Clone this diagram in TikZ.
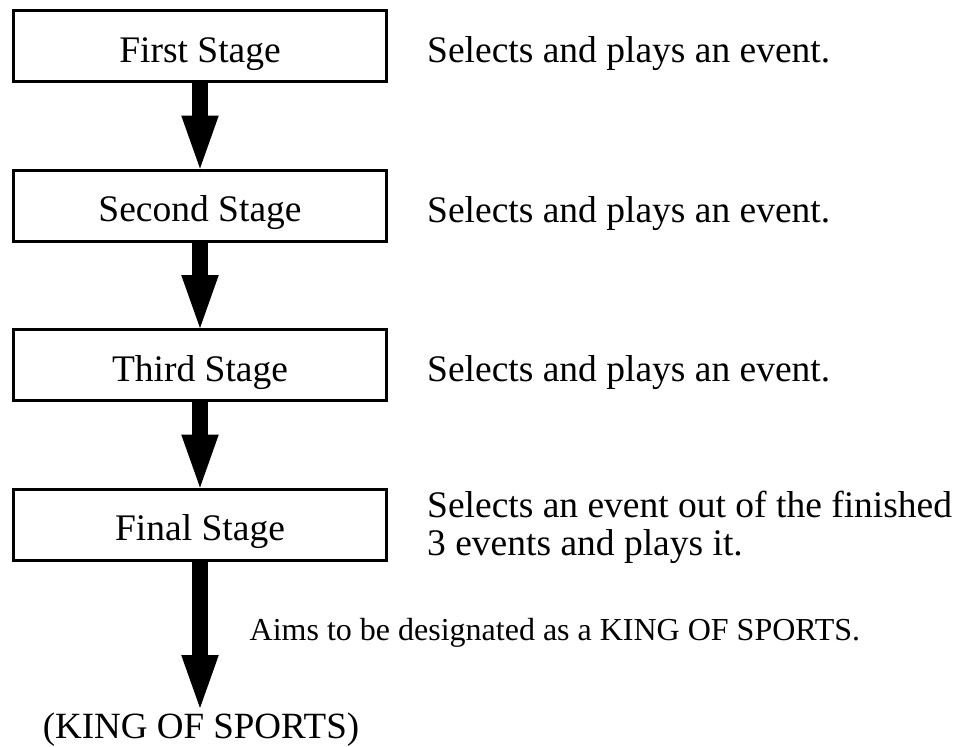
\documentclass[tikz,border=0pt]{standalone}
\usepackage{fontspec}
\setmainfont{Liberation Serif}
\usetikzlibrary{arrows.meta}
\begin{document}
\begin{tikzpicture}[x=1pt,y=-1pt,
  stage/.style={draw,line width=3pt,minimum width=373.4pt,minimum height=71.2pt,
    inner sep=0pt,text height=33pt,text depth=0.6pt,font=\fontsize{37.5}{45}\selectfont},
  desc/.style={anchor=base west,inner sep=0pt,font=\fontsize{37.5}{45}\selectfont},
  flow/.style={line width=16.6pt,-{Triangle[length=53pt,width=37.6pt,line width=0pt]}}
]
\useasboundingbox (0,0) rectangle (956,747);

\node[stage] (s1) at (200,46.1) {First Stage};
\node[stage] (s2) at (200,205.6) {Second Stage};
\node[stage] (s3) at (200,365.1) {Third Stage};
\node[stage] (s4) at (200,524.6) {Final Stage};

\node[desc] (d1) at (427,62.8) {Selects and plays an event.};
\node[desc] (d2) at (427,222.3) {Selects and plays an event.};
\node[desc] (d3) at (427,381.8) {Selects and plays an event.};
\node[desc] (d4a) at (427,517) {Selects an event out of the finished};
\node[desc] (d4b) at (427,555) {3 events and plays it.};

\node[anchor=base west,inner sep=0pt,font=\fontsize{32}{38}\selectfont] (aim) at (249.5,640)
  {Aims to be designated as a KING OF SPORTS.};
\node[anchor=base,inner sep=0pt,font=\fontsize{37}{44}\selectfont] (king) at (201,738)
  {(KING OF SPORTS)};

\coordinate (endtip) at (200,708);

\draw[flow] (s1.south) -- (s2.north);
\draw[flow] (s2.south) -- (s3.north);
\draw[flow] (s3.south) -- (s4.north);
\draw[flow] (s4.south) -- (endtip);
\end{tikzpicture}
\end{document}
